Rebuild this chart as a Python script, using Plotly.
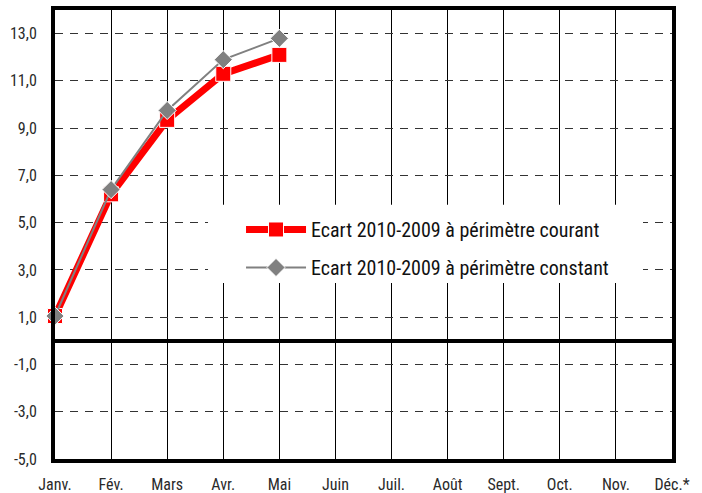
import plotly.graph_objects as go

months = ["Janv.", "Fév.", "Mars", "Avr.", "Mai", "Juin", "Juil.", "Août",
          "Sept.", "Oct.", "Nov.", "Déc.*"]
courant = [1.05, 6.2, 9.35, 11.3, 12.1]
constant = [1.05, 6.4, 9.75, 11.9, 12.8]
ytick_vals = [-5, -3, -1, 1, 3, 5, 7, 9, 11, 13]
ytick_text = ["-5,0", "-3,0", "-1,0", "1,0", "3,0", "5,0", "7,0", "9,0", "11,0", "13,0"]
name_courant = "Ecart 2010-2009 à périmètre courant"
name_constant = "Ecart 2010-2009 à périmètre constant"

FONT = "Roboto Condensed, Arial Narrow, sans-serif"
TXT = "#2a2a2a"

x_idx = list(range(len(months)))

fig = go.Figure()
fig.add_trace(go.Scatter(
    x=x_idx[:len(courant)], y=courant, name=name_courant, legendgroup="a",
    mode="lines+markers",
    line=dict(color="#ff0000", width=7),
    marker=dict(symbol="square", size=15, color="#ff0000",
                line=dict(color="white", width=1)),
    cliponaxis=False, hoverinfo="skip",
))
fig.add_trace(go.Scatter(
    x=x_idx[:len(constant)], y=constant, name=name_constant, legendgroup="b",
    mode="lines+markers",
    line=dict(color="#808080", width=2),
    marker=dict(symbol="diamond", size=14, color="#808080",
                line=dict(color="white", width=1)),
    cliponaxis=False, hoverinfo="skip",
))

# white background box behind the legend (hides the grid there)
fig.add_shape(type="rect", xref="paper", yref="paper",
              x0=0.248, x1=0.953, y0=0.392, y1=0.566,
              fillcolor="white", line=dict(width=0), layer="above")

fig.update_layout(
    width=702, height=493, autosize=False,
    margin=dict(l=55, r=30, t=10, b=34, pad=0),
    paper_bgcolor="white", plot_bgcolor="white",
    font=dict(family=FONT, size=16, color=TXT),
    showlegend=True,
    legend=dict(
        x=0.3015, y=0.5546, xanchor="left", yanchor="top",
        bgcolor="rgba(0,0,0,0)", borderwidth=0,
        font=dict(family=FONT, size=20, color="#111111"),
        itemwidth=60, tracegroupgap=9,
    ),
    xaxis=dict(
        range=[0, 11], tickmode="array", tickvals=x_idx, ticktext=months,
        showgrid=True, gridcolor="#000000", gridwidth=1,
        showline=True, linecolor="black", linewidth=4, mirror=True,
        zeroline=False, ticks="", ticklabelstandoff=8, automargin=False,
        tickfont=dict(family=FONT, size=16, color=TXT),
    ),
    yaxis=dict(
        range=[-5, 14], tickmode="array", tickvals=ytick_vals, ticktext=ytick_text,
        showgrid=True, gridcolor="#333333", gridwidth=1, griddash="8px,7px",
        showline=True, linecolor="black", linewidth=4, mirror=True,
        zeroline=True, zerolinecolor="black", zerolinewidth=4,
        ticks="", ticklabelstandoff=11, automargin=False,
        tickfont=dict(family=FONT, size=16, color=TXT),
    ),
)

fig.write_html("out.html", config={"displayModeBar": False},
               post_script="document.body.style.margin='0px';")
